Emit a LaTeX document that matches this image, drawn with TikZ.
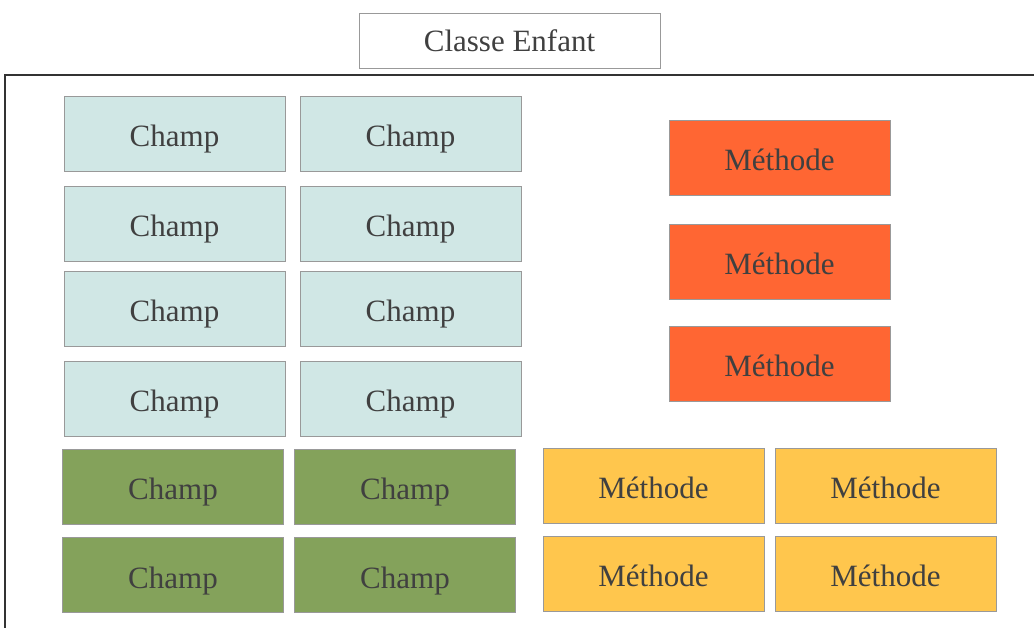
\documentclass[tikz,border=0pt]{standalone}
\usepackage{fontspec}
\setmainfont{Liberation Serif}
\usepackage{tikz}

\definecolor{champbleu}{HTML}{D0E7E5}
\definecolor{champvert}{HTML}{84A25B}
\definecolor{methorange}{HTML}{FF6633}
\definecolor{methjaune}{HTML}{FFC64D}
\definecolor{texte}{HTML}{404040}
\definecolor{bord}{HTML}{999999}

\begin{document}
\begin{tikzpicture}[x=1pt, y=-1pt,
  boite/.style = {draw=bord, line width=0.8pt, inner sep=0pt,
    text=texte, font=\fontsize{31}{31}\selectfont},
  cellule/.style = {boite, minimum width=221pt, minimum height=75pt, text height=26pt, text depth=0pt},
  bleu/.style = {cellule, fill=champbleu},
  vert/.style = {cellule, fill=champvert},
  orange/.style = {cellule, fill=methorange},
  jaune/.style = {cellule, fill=methjaune}]
\useasboundingbox (0,0) rectangle (1034,628);
% cadre de la classe
\draw[line width=1.2pt, black!80] (1034,75) -- (5,75) -- (5,628);
\node[boite, minimum width=301pt, minimum height=55pt] (titre) at (509.5,40.5) {Classe Enfant};
% champs
\node[bleu] (c1) at (174.5,133.5) {Champ};
\node[bleu] (c2) at (410.5,133.5) {Champ};
\node[bleu] (c3) at (174.5,223.5) {Champ};
\node[bleu] (c4) at (410.5,223.5) {Champ};
\node[bleu] (c5) at (174.5,308.5) {Champ};
\node[bleu] (c6) at (410.5,308.5) {Champ};
\node[bleu] (c7) at (174.5,398.5) {Champ};
\node[bleu] (c8) at (410.5,398.5) {Champ};
\node[vert] (v1) at (173,486.5) {Champ};
\node[vert] (v2) at (405,486.5) {Champ};
\node[vert] (v3) at (173,575) {Champ};
\node[vert] (v4) at (405,575) {Champ};
% methodes
\node[orange] (m1) at (779.5,157.5) {Méthode};
\node[orange] (m2) at (779.5,261.5) {Méthode};
\node[orange] (m3) at (779.5,363.5) {Méthode};
\node[jaune] (j1) at (653.5,485.5) {Méthode};
\node[jaune] (j2) at (885.5,485.5) {Méthode};
\node[jaune] (j3) at (653.5,573.5) {Méthode};
\node[jaune] (j4) at (885.5,573.5) {Méthode};
\end{tikzpicture}
\end{document}
